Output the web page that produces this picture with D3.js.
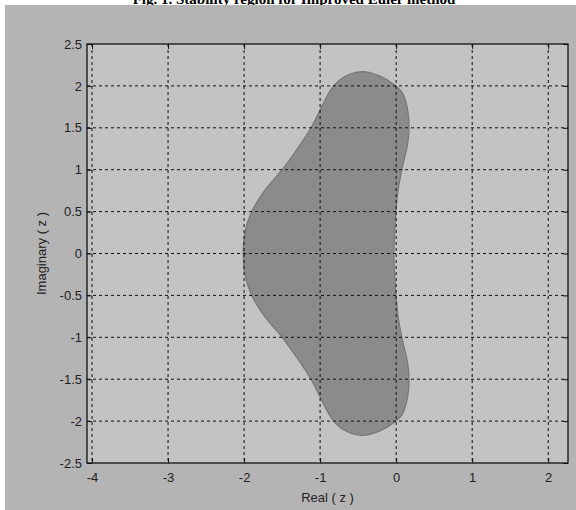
<!DOCTYPE html>
<html>
<head>
<meta charset="utf-8">
<script src="https://cdn.jsdelivr.net/npm/d3@7"></script>
<style>
  body { margin: 0; background: #fff; }
  text { font-family: Arial, "Liberation Sans", sans-serif; }
</style>
</head>
<body>
<script>
// boundary of the stability region (upper half, left to right)
const realUpper = [-2.01, -1.99, -1.9, -1.73, -1.5, -1.3, -1.12, -0.98, -0.84, -0.68, -0.45, -0.22, -0.02, 0.08, 0.15, 0.17, 0.15, 0.08, 0.03, 0.0, -0.02, -0.03];
const imagUpper = [0.0, 0.25, 0.5, 0.75, 1.0, 1.25, 1.5, 1.75, 1.98, 2.11, 2.17, 2.12, 2.01, 1.92, 1.72, 1.5, 1.3, 1.02, 0.78, 0.53, 0.25, 0.0];
const xTicks = [-4, -3, -2, -1, 0, 1, 2];
const yTicks = [-2.5, -2, -1.5, -1, -0.5, 0, 0.5, 1, 1.5, 2, 2.5];
const title = 'Fig. 1. Stability region for Improved Euler method';

const W = 576, H = 510;
const box = { l: 87, r: 568, t: 44, b: 463 };

const svg = d3.select('body').append('svg').attr('width', W).attr('height', H);

// title, clipped at the top like the scan
svg.append('text')
  .attr('x', 294).attr('y', 3.5)
  .attr('text-anchor', 'middle')
  .style('font-family', '"Liberation Serif", "Times New Roman", serif')
  .style('font-weight', 'bold')
  .style('font-size', '15px')
  .text(title);

// figure background
svg.append('rect').attr('x', 5).attr('y', 5).attr('width', W - 5).attr('height', H - 5).attr('fill', '#b4b4b4');

const x = d3.scaleLinear().domain([-4.066, 2.26]).range([box.l, box.r]);
const y = d3.scaleLinear().domain([-2.5, 2.5]).range([box.b, box.t]);

// plot area
svg.append('rect')
  .attr('x', box.l).attr('y', box.t)
  .attr('width', box.r - box.l).attr('height', box.b - box.t)
  .attr('fill', '#c3c3c3');

// upper half left -> right, then mirrored lower half back right -> left
const upperPts = realUpper.map((d, i) => [d, imagUpper[i]]);
const lowerPts = realUpper.map((d, i) => [d, -imagUpper[i]]).reverse().slice(1, -1);
const closed = upperPts.concat(lowerPts);

const lineGen = d3.line()
  .x(d => x(d[0]))
  .y(d => y(d[1]))
  .curve(d3.curveCatmullRomClosed.alpha(0.5));

svg.append('path')
  .attr('d', lineGen(closed))
  .attr('fill', '#8b8b8b')
  .attr('stroke', '#777')
  .attr('stroke-width', 1.2);

// grid
const grid = svg.append('g');
grid.selectAll('line.vx')
  .data(xTicks)
  .enter()
  .append('line')
  .attr('x1', d => x(d)).attr('x2', d => x(d))
  .attr('y1', box.t).attr('y2', box.b)
  .attr('stroke', '#111').attr('stroke-width', 1)
  .attr('stroke-dasharray', '3,3');
grid.selectAll('line.hy')
  .data(yTicks.filter(d => d > -2.5 && d < 2.5))
  .enter()
  .append('line')
  .attr('y1', d => y(d)).attr('y2', d => y(d))
  .attr('x1', box.l).attr('x2', box.r)
  .attr('stroke', '#111').attr('stroke-width', 1)
  .attr('stroke-dasharray', '3,3');

// axes (ticks inside)
const fmt = d => String(d);
const axBottom = svg.append('g').attr('transform', `translate(0,${box.b})`)
  .call(d3.axisBottom(x).tickValues(xTicks).tickFormat(fmt).tickSizeInner(-5).tickSizeOuter(0).tickPadding(10));
const axLeft = svg.append('g').attr('transform', `translate(${box.l},0)`)
  .call(d3.axisLeft(y).tickValues(yTicks).tickFormat(fmt).tickSizeInner(-5).tickSizeOuter(0).tickPadding(5));
const axTop = svg.append('g').attr('transform', `translate(0,${box.t})`)
  .call(d3.axisTop(x).tickValues(xTicks).tickFormat('').tickSizeInner(-5).tickSizeOuter(0));
const axRight = svg.append('g').attr('transform', `translate(${box.r},0)`)
  .call(d3.axisRight(y).tickValues(yTicks).tickFormat('').tickSizeInner(-5).tickSizeOuter(0));

[axBottom, axLeft, axTop, axRight].forEach(a => {
  a.select('.domain').remove();
  a.selectAll('line').attr('stroke', '#111');
  a.selectAll('text')
    .style('font-family', 'Arial, "Liberation Sans", sans-serif')
    .style('font-size', '13px')
    .attr('fill', '#222');
});

// box
svg.append('rect')
  .attr('x', box.l).attr('y', box.t)
  .attr('width', box.r - box.l).attr('height', box.b - box.t)
  .attr('fill', 'none').attr('stroke', '#111').attr('stroke-width', 1.3);

// axis labels
svg.append('text')
  .attr('x', (box.l + box.r) / 2).attr('y', 502)
  .attr('text-anchor', 'middle')
  .style('font-size', '13px').attr('fill', '#222')
  .text('Real ( z )');
svg.append('text')
  .attr('transform', `translate(46,${(box.t + box.b) / 2}) rotate(-90)`)
  .attr('text-anchor', 'middle')
  .style('font-size', '13px').attr('fill', '#222')
  .text('Imaginary ( z )');
</script>
</body>
</html>
